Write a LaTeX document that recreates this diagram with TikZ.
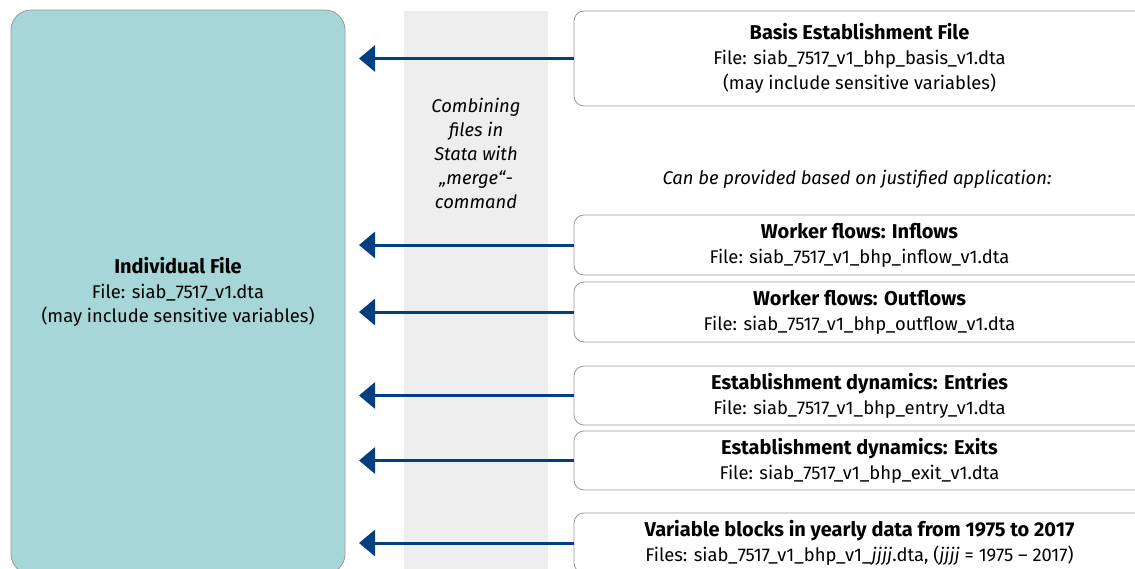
\documentclass[tikz,border=0pt]{standalone}
\usepackage{fontspec}
\setmainfont{Fira Sans}
\usetikzlibrary{arrows.meta,positioning}
\definecolor{mainteal}{HTML}{A6D6D7}
\definecolor{bandgray}{HTML}{EEEEEE}
\definecolor{arrowblue}{HTML}{004080}
\definecolor{boxgray}{HTML}{9A9A9A}
\newcommand\filetitle[1]{{\fontsize{10}{12.4}\selectfont\bfseries #1}}

\begin{document}
\begin{tikzpicture}[x=0.5pt,y=-0.5pt,
every node/.style={font=\fontsize{9.2}{12.4}\selectfont},
mainfile/.style={draw=boxgray,fill=mainteal,rounded corners=10pt,minimum width=167pt,minimum height=282pt,align=center},
extrafile/.style={draw=boxgray,fill=white,rounded corners=5pt,minimum width=285.5pt,align=center},
merge/.style={draw=arrowblue,line width=1.5pt,-{Triangle[length=8pt,width=13pt]}}
]
\clip (0,0) rectangle (1135,568);

\fill[bandgray] (404,11) rectangle (548,580);
\node[font=\fontsize{9.2}{12.1}\selectfont\itshape,align=center] (stata) at (476,153.5)
  {Combining\\files in\\Stata with\\„merge“-\\command};

\node[mainfile] (indiv) at (178,292)
  {\filetitle{Individual File}\\File: siab\_7517\_v1.dta\\(may include sensitive variables)};

\node[extrafile,minimum height=47.5pt] (basis) at (859.5,58.5)
  {\filetitle{Basis Establishment File}\\File: siab\_7517\_v1\_bhp\_basis\_v1.dta\\(may include sensitive variables)};
\node[font=\fontsize{9.2}{12.1}\selectfont\itshape] (justified) at (857,179)
  {Can be provided based on justified application:};
\node[extrafile,minimum height=30pt] (inflow) at (859.5,245)
  {\filetitle{Worker flows: Inflows}\\File: siab\_7517\_v1\_bhp\_inflow\_v1.dta};
\node[extrafile,minimum height=30pt] (outflow) at (859.5,312)
  {\filetitle{Worker flows: Outflows}\\File: siab\_7517\_v1\_bhp\_outflow\_v1.dta};
\node[extrafile,minimum height=29.5pt] (entry) at (859.5,395.5)
  {\filetitle{Establishment dynamics: Entries}\\File: siab\_7517\_v1\_bhp\_entry\_v1.dta};
\node[extrafile,minimum height=29.5pt] (exit) at (859.5,460.5)
  {\filetitle{Establishment dynamics: Exits}\\File: siab\_7517\_v1\_bhp\_exit\_v1.dta};
\node[extrafile,minimum height=30pt] (yearly) at (859.5,543)
  {\filetitle{Variable blocks in yearly data from 1975 to 2017}\\Files: siab\_7517\_v1\_bhp\_v1\_\textit{jjjj}.dta, (\textit{jjjj} = 1975 -- 2017)};

\coordinate (tip) at (359,0);
\draw[merge] (basis.west) -- (basis.west -| tip);
\draw[merge] (inflow.west) -- (inflow.west -| tip);
\draw[merge] (outflow.west) -- (outflow.west -| tip);
\draw[merge] (entry.west) -- (entry.west -| tip);
\draw[merge] (exit.west) -- (exit.west -| tip);
\draw[merge] (yearly.west) -- (yearly.west -| tip);
\end{tikzpicture}
\end{document}
